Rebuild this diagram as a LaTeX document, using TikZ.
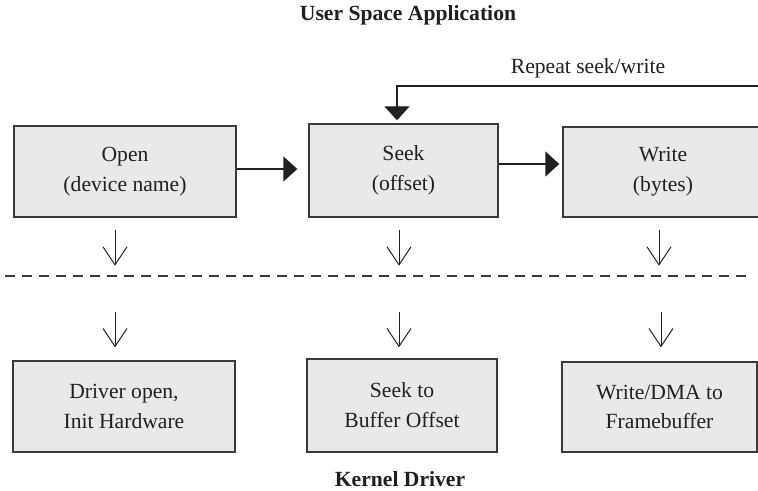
\documentclass[tikz,border=0pt]{standalone}
\usepackage{fontspec}
\setmainfont{Liberation Serif}
\usepackage{xcolor}
\usetikzlibrary{arrows.meta, positioning}
\definecolor{BoxFill}{HTML}{E8E9EB}
\definecolor{BoxLine}{HTML}{3A3A3A}
\definecolor{Ink}{HTML}{231F20}

\begin{document}
\begin{tikzpicture}[font=\fontsize{12.3}{17}\selectfont,text=Ink,stepbox/.style={draw=BoxLine, fill=BoxFill, line width=0.8pt, align=center, inner sep=0pt},flow/.style={-{Triangle[length=0.28cm, width=0.5cm]}, line width=0.8pt, draw=Ink},down/.style={-{Straight Barb[length=0.36cm, width=0.48cm]}, line width=0.55pt, draw=Ink},headtext/.style={font=\fontsize{12.3}{17}\selectfont\bfseries}]
\clip (0,0) rectangle (15.16,-9.82);
\fill[white] (0,0) rectangle (15.16,-9.82);
\node[headtext] (user) at (8.16,-0.30) {User Space Application};
\node[stepbox, minimum width=4.44cm, minimum height=1.82cm] (open) at (2.50,-3.43) {Open\\(device name)};
\node[stepbox, minimum width=3.78cm, minimum height=1.86cm] (seek) at (8.07,-3.41) {Seek\\(offset)};
\node[stepbox, minimum width=4.00cm, minimum height=1.80cm] (write) at (13.26,-3.44) {Write\\(bytes)};
\node (repeat) at (11.76,-1.36) {Repeat seek/write};
\coordinate (loop) at (7.94,-1.72);
\draw[flow] ([yshift=0.05cm]open.east) coordinate (o1) -- ([xshift=-0.22cm]seek.west |- o1);
\draw[flow] ([yshift=0.13cm]seek.east) coordinate (s1) -- ([xshift=-0.06cm]write.west |- s1);
\draw[flow] (write.east) -- ++(0.4,0) |- (loop) -- ([yshift=0.06cm]loop |- seek.north);
\draw[BoxLine, line width=0.6pt, dash pattern=on 0.2cm off 0.14cm] (0.10,-5.52) -- (14.96,-5.52);
\draw[down] ([shift={(-0.20,-0.24)}]open.south) -- ++(0,-0.72);
\draw[down] ([shift={(-0.09,-0.24)}]seek.south) -- ++(0,-0.72);
\draw[down] ([shift={(-0.08,-0.24)}]write.south) -- ++(0,-0.72);
\node[stepbox, minimum width=4.44cm, minimum height=1.82cm] (drvopen) at (2.48,-8.13) {Driver open,\\Init Hardware};
\node[stepbox, minimum width=3.80cm, minimum height=1.86cm] (seekbuf) at (8.04,-8.11) {Seek to\\Buffer Offset};
\node[stepbox, minimum width=3.90cm, minimum height=1.80cm] (dma) at (13.19,-8.14) {Write/DMA to\\Framebuffer};
\draw[down] ([shift={(-0.18,0.96)}]drvopen.north) -- ([shift={(-0.18,0.26)}]drvopen.north);
\draw[down] ([shift={(-0.06,0.92)}]seekbuf.north) -- ([shift={(-0.06,0.22)}]seekbuf.north);
\draw[down] ([shift={(0.03,0.98)}]dma.north) -- ([shift={(0.03,0.28)}]dma.north);
\node[headtext] (kernel) at (8.00,-9.58) {Kernel Driver};
\end{tikzpicture}
\end{document}
